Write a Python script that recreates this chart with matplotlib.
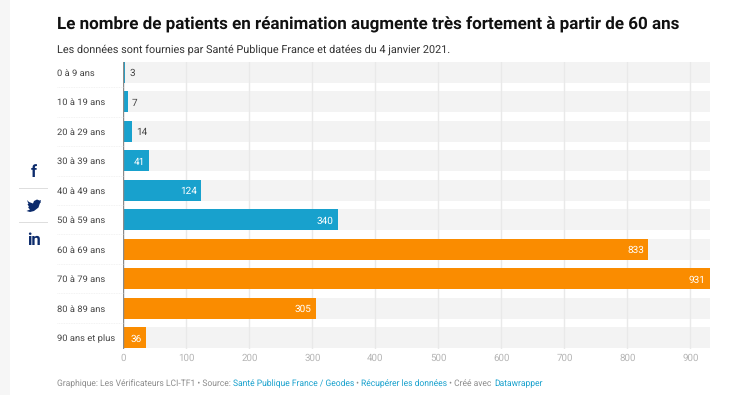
import matplotlib
matplotlib.use("Agg")
import matplotlib.pyplot as plt
from matplotlib.patches import Polygon, Rectangle

plt.rcParams["font.family"] = ["Roboto", "DejaVu Sans"]
plt.rcParams["text.hinting"] = "no_hinting"
plt.rcParams["text.hinting_factor"] = 8

# === DATA ===
AGES = ["0 à 9 ans", "10 à 19 ans", "20 à 29 ans", "30 à 39 ans", "40 à 49 ans",
        "50 à 59 ans", "60 à 69 ans", "70 à 79 ans", "80 à 89 ans", "90 ans et plus"]
PATIENTS = [3, 7, 14, 41, 124, 340, 833, 931, 305, 36]
BAR_COLORS = ["#18a1cd"] * 6 + ["#fa8c00"] * 4
X_TICKS = [0, 100, 200, 300, 400, 500, 600, 700, 800, 900]
X_MAX = 931

TITLE = "Le nombre de patients en réanimation augmente très fortement à partir de 60 ans"
SUBTITLE = "Les données sont fournies par Santé Publique France et datées du 4 janvier 2021."
FOOTER = [("Graphique: Les Vérificateurs LCI-TF1 • Source: ", "#8c8c8c"),
          ("Santé Publique France / Geodes", "#18a1cd"),
          (" • ", "#8c8c8c"),
          ("Récupérer les données", "#18a1cd"),
          (" • Créé avec ", "#8c8c8c"),
          ("Datawrapper", "#18a1cd")]

W, H = 750, 395
NAVY = "#0b2a6b"
FOOTER_SIZE = 6.16


def px(x, y):
    # pixel position in the picture -> figure coordinates
    return x / W, 1 - y / H


def main():
    fig = plt.figure(figsize=(W / 100, H / 100), dpi=100, facecolor="white")

    # page background strip on the left
    fig.add_artist(Rectangle((0, 0), 10 / W, 1, transform=fig.transFigure,
                             color="#f6f6f6", lw=0))

    ax = fig.add_axes([123.3 / W, 1 - 348.5 / H, (710 - 123.3) / W, (348.5 - 61.5) / H])
    ax.set_xlim(0, X_MAX)
    n = len(AGES)
    ax.set_ylim(n - 1 + 0.365, -0.365)

    rows = range(n)
    ax.barh(rows, [X_MAX] * n, height=0.72, color="#f3f3f3", zorder=1)
    for x in X_TICKS[1:]:
        ax.axvline(x, color="#e9e9e9", lw=1, zorder=2)
    ax.barh(rows, PATIENTS, height=0.72, color=BAR_COLORS, zorder=3)
    ax.axvline(0, color="#8a8a8a", lw=1, zorder=4)

    for i, v in enumerate(PATIENTS):
        if v < 30:
            ax.annotate(str(v), (v, i), xytext=(3, 0), textcoords="offset points",
                        va="center_baseline", ha="left", fontsize=7.2, color="#444444", zorder=5)
        else:
            ax.annotate(str(v), (v, i), xytext=(-3, 0), textcoords="offset points",
                        va="center_baseline", ha="right", fontsize=7.2, color="white", zorder=5)

    for spine in ax.spines.values():
        spine.set_visible(False)
    ax.set_yticks([])
    ax.set_xticks(X_TICKS)
    ax.tick_params(axis="x", length=0, pad=3.5, labelsize=7, labelcolor="#b5b5b5")

    # row labels with the faint separators between them
    for i, label in enumerate(AGES):
        y = 72.5 + i * 29.45
        fig.text(*px(57.5, y), label, fontsize=6.77, color="#444444", va="center_baseline")
        if i < n - 1:
            fig.add_artist(plt.Line2D([57 / W, 123 / W], [px(0, y + 14.7)[1]] * 2,
                                      color="#eeeeee", lw=0.6, ls=(0, (1, 1))))

    fig.text(*px(57, 23), TITLE, fontsize=12.29, fontweight="bold", color="#111111",
             va="center_baseline")
    fig.text(*px(57, 48), SUBTITLE, fontsize=7.84, color="#333333", va="center_baseline")

    # footer is built piece by piece since the colours change
    fig.canvas.draw()
    renderer = fig.canvas.get_renderer()
    x = 57
    for piece, color in FOOTER:
        fig.text(*px(x, 383), piece, fontsize=FOOTER_SIZE, color=color, va="center_baseline")
        # trailing spaces are not counted by the extent, so measure with nbsp
        probe = fig.text(0, 0, piece.replace(" ", "\u00a0"), fontsize=FOOTER_SIZE)
        x += probe.get_window_extent(renderer).width
        probe.remove()

    # social icons
    fig.text(*px(33.5, 172), "f", fontsize=12, fontweight="bold", color=NAVY,
             ha="center", va="center")
    fig.text(*px(33.5, 240), "in", fontsize=12, fontweight="bold", color=NAVY,
             ha="center", va="center")
    for y in (188, 222):
        fig.add_artist(plt.Line2D([19 / W, 47 / W], [px(0, y)[1]] * 2, color="#dddddd", lw=0.7))
    bird = [(27, 200), (29, 202), (33, 203.5), (34, 201), (37, 199.5), (39.5, 200.5),
            (41, 200), (40.5, 201.5), (41, 202), (39.8, 203.5), (38.5, 207.5),
            (34, 211), (30, 212), (26.5, 211), (30, 209.5), (28, 207.5), (29, 207),
            (27.5, 204), (28.5, 204)]
    fig.add_artist(Polygon([px(a, b) for a, b in bird], transform=fig.transFigure,
                           color=NAVY, lw=0))

    fig.savefig("out.png", dpi=100)


if __name__ == "__main__":
    main()
